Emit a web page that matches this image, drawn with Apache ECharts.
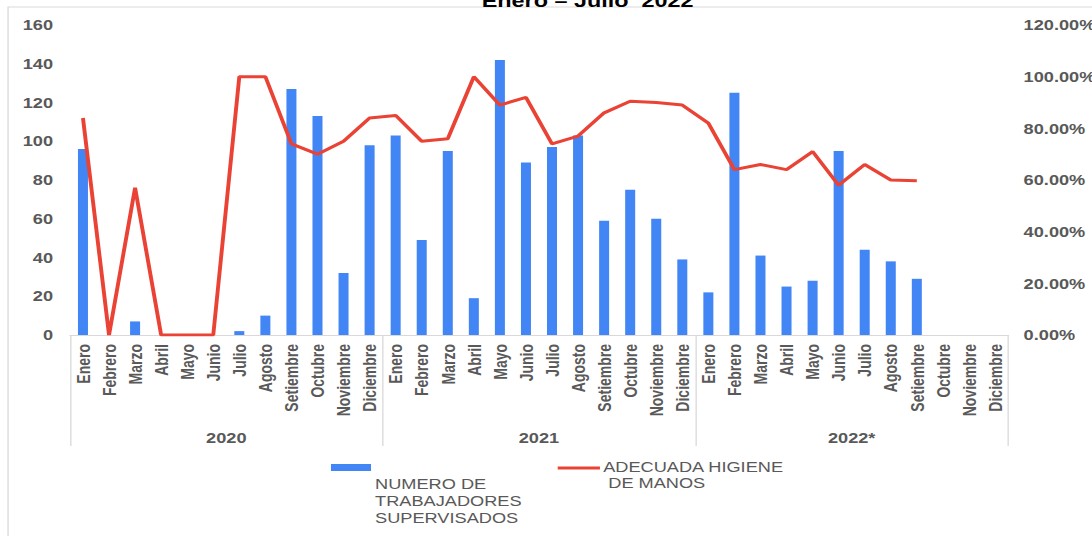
<!DOCTYPE html>
<html>
<head>
<meta charset="utf-8">
<script src="https://cdn.jsdelivr.net/npm/echarts@6/dist/echarts.min.js"></script>
<style>
  html, body { margin: 0; padding: 0; background: #ffffff; overflow: hidden; }
  /* The chart is laid out in a narrower box and widened horizontally,
     giving the broad, stretched lettering of the original report page. */
  #chart {
    width: 840px;
    height: 536px;
    transform: scaleX(1.3);
    transform-origin: 0 0;
  }
</style>
</head>
<body>
<div id="chart"></div>
<script>
// Month and year labels
const months = ['Enero', 'Febrero', 'Marzo', 'Abril', 'Mayo', 'Junio', 'Julio',
  'Agosto', 'Setiembre', 'Octubre', 'Noviembre', 'Diciembre'];
const years = ['2020', '2021', '2022*'];

// Workers supervised per month
const workers2020 = [96, 0, 7, 0, 0, 0, 2, 10, 127, 113, 32, 98];
const workers2021 = [103, 49, 95, 19, 142, 89, 97, 103, 59, 75, 60, 39];
const workers2022 = [22, 125, 41, 25, 28, 95, 44, 38, 29, null, null, null];

// Share with adequate hand hygiene (fraction)
const hygiene2020 = [0.84, 0, 0.57, 0, 0, 0, 1.00, 1.00, 0.74, 0.70, 0.75, 0.84];
const hygiene2021 = [0.85, 0.75, 0.76, 1.00, 0.89, 0.92, 0.74, 0.77, 0.86, 0.905, 0.90, 0.89];
const hygiene2022 = [0.82, 0.64, 0.66, 0.64, 0.71, 0.58, 0.66, 0.60, 0.597, null, null, null];

// Axis ticks
const countTicks = { min: 0, max: 160, step: 20 };
const pctTicks = { min: 0, max: 1.2, step: 0.2 };

const titleText = 'Enero \u2013 Julio  2022';
const barName = 'NUMERO DE\nTRABAJADORES\nSUPERVISADOS';
const lineName = 'ADECUADA HIGIENE\n DE MANOS';

const categories = years.flatMap(() => months);
const workers = [...workers2020, ...workers2021, ...workers2022];
const hygiene = [...hygiene2020, ...hygiene2021, ...hygiene2022];

const gray = '#595959';
const lineGray = '#d9d9d9';
const blue = '#4285F4';
const red = '#EA4335';
const font = '"Liberation Sans", Arial, sans-serif';

const chart = echarts.init(document.getElementById('chart'), null, { renderer: 'svg' });

chart.setOption({
  animation: false,
  backgroundColor: '#ffffff',
  textStyle: { fontFamily: font },
  grid: {
    left: 53.8, right: 64.6, top: 25, bottom: 201,
    containLabel: false,
    outerBoundsMode: 'none'
  },
  xAxis: [
    {
      type: 'category',
      data: categories,
      position: 'bottom',
      offset: 0,
      axisLine: { show: true, lineStyle: { color: lineGray, width: 1 } },
      axisTick: { show: false },
      axisLabel: {
        interval: 0,
        rotate: 90,
        margin: 9,
        color: gray,
        fontSize: 14,
        fontWeight: 'bold',
        fontFamily: font
      }
    },
    {
      type: 'category',
      data: years,
      position: 'bottom',
      offset: 0,
      axisLine: { show: false },
      axisTick: { show: true, length: 111, lineStyle: { color: lineGray, width: 1 } },
      axisLabel: {
        interval: 0,
        margin: 96,
        color: gray,
        fontSize: 14,
        fontWeight: 'bold',
        fontFamily: font
      }
    }
  ],
  yAxis: [
    {
      type: 'value',
      min: countTicks.min,
      max: countTicks.max,
      interval: countTicks.step,
      axisLine: { show: false },
      axisTick: { show: false },
      splitLine: { show: false },
      axisLabel: {
        margin: 13,
        color: gray,
        fontSize: 14,
        fontWeight: 'bold',
        fontFamily: font
      }
    },
    {
      type: 'value',
      position: 'right',
      min: pctTicks.min,
      max: pctTicks.max,
      interval: pctTicks.step,
      axisLine: { show: false },
      axisTick: { show: false },
      splitLine: { show: false },
      axisLabel: {
        margin: 12,
        color: gray,
        fontSize: 14,
        fontWeight: 'bold',
        fontFamily: font,
        formatter: v => (v * 100).toFixed(2) + '%'
      }
    }
  ],
  series: [
    {
      name: barName,
      type: 'bar',
      xAxisIndex: 0,
      yAxisIndex: 0,
      data: workers,
      barWidth: 7.7,
      itemStyle: { color: blue }
    },
    {
      name: lineName,
      type: 'line',
      xAxisIndex: 0,
      yAxisIndex: 1,
      data: hygiene,
      showSymbol: false,
      symbol: 'none',
      connectNulls: false,
      lineStyle: { color: red, width: 3 },
      itemStyle: { color: red }
    }
  ],
  graphic: [
    // outer frame of the chart area
    {
      type: 'rect',
      silent: true,
      z: 0,
      shape: { x: 6.2, y: 7, width: 900, height: 600 },
      style: { fill: 'none', stroke: lineGray, lineWidth: 1 }
    },
    // title, sitting above the frame and running off the top of the page
    {
      type: 'text',
      silent: true,
      x: 452,
      y: 10,
      style: {
        text: titleText,
        fill: '#000000',
        font: 'bold 18px ' + font,
        textAlign: 'center',
        textVerticalAlign: 'bottom'
      }
    },
    // legend: bars
    {
      type: 'rect',
      silent: true,
      shape: { x: 254.6, y: 464, width: 30.8, height: 7 },
      style: { fill: blue }
    },
    {
      type: 'text',
      silent: true,
      x: 288.5,
      y: 475,
      style: {
        text: barName,
        fill: gray,
        font: '14px ' + font,
        lineHeight: 17,
        textAlign: 'left',
        textVerticalAlign: 'top'
      }
    },
    // legend: line
    {
      type: 'line',
      silent: true,
      shape: { x1: 429, y1: 468, x2: 461.5, y2: 468 },
      style: { stroke: red, lineWidth: 3 }
    },
    {
      type: 'text',
      silent: true,
      x: 464,
      y: 459,
      style: {
        text: lineName,
        fill: gray,
        font: '14px ' + font,
        lineHeight: 16,
        textAlign: 'left',
        textVerticalAlign: 'top'
      }
    }
  ]
});
</script>
</body>
</html>
